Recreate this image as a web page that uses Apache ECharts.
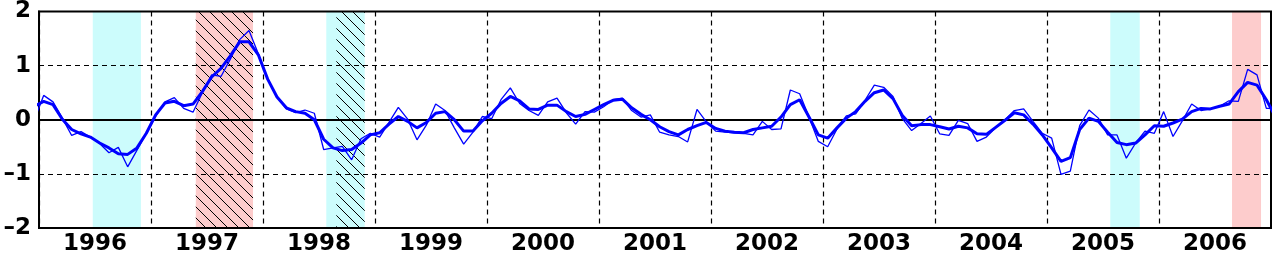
<!DOCTYPE html>
<html>
<head>
<meta charset="utf-8">
<script src="https://cdn.jsdelivr.net/npm/echarts@6/dist/echarts.min.js"></script>
<style>
html,body{margin:0;padding:0;background:#fff;}
#chart{width:1272px;height:257px;}
</style>
</head>
<body>
<div id="chart"></div>
<script>
// Year labels (centered on each year)
const yearLabels = ['1996','1997','1998','1999','2000','2001','2002','2003','2004','2005','2006'];
const startYear = 1996;
const yTicks = [-2, -1, 0, 1, 2];

// Monthly index values, starting Dec 1995 (index -1) through Jan 2007 (index 132)
const monthly = [
 0.0,
 0.45, 0.33, 0.03, -0.29, -0.22, -0.32, -0.44, -0.61, -0.51, -0.87, -0.56, -0.25,
 0.06, 0.33, 0.41, 0.21, 0.14, 0.5, 0.83, 0.8, 1.12, 1.48, 1.65, 1.22,
 0.75, 0.42, 0.2, 0.13, 0.18, 0.12, -0.55, -0.52, -0.49, -0.74, -0.35, -0.25,
 -0.32, -0.05, 0.23, 0.01, -0.37, -0.1, 0.29, 0.17, -0.15, -0.45, -0.23, 0.06,
 0.02, 0.37, 0.59, 0.3, 0.17, 0.08, 0.33, 0.4, 0.13, -0.08, 0.15, 0.14,
 0.24, 0.37, 0.4, 0.17, 0.05, 0.09, -0.23, -0.28, -0.31, -0.41, 0.19, -0.04,
 -0.21, -0.23, -0.24, -0.25, -0.28, -0.03, -0.18, -0.17, 0.55, 0.48, 0.05, -0.4,
 -0.5, -0.17, 0.07, 0.11, 0.36, 0.64, 0.6, 0.43, 0.02, -0.2, -0.07, 0.07,
 -0.26, -0.29, -0.01, -0.07, -0.4, -0.32, -0.15, 0.0, 0.17, 0.2, -0.03, -0.25,
 -0.34, -1.01, -0.95, -0.11, 0.18, 0.03, -0.28, -0.28, -0.71, -0.43, -0.21, -0.25,
 0.15, -0.31, -0.02, 0.29, 0.17, 0.2, 0.25, 0.35, 0.34, 0.93, 0.83, 0.21,
 0.21
];
// Smoothed (running mean) values, same months
const smoothed = [
 0.25,
 0.34, 0.28, 0.01, -0.18, -0.26, -0.32, -0.43, -0.52, -0.63, -0.64, -0.52, -0.25,
 0.09, 0.31, 0.34, 0.26, 0.29, 0.52, 0.79, 0.95, 1.18, 1.44, 1.44, 1.2,
 0.75, 0.42, 0.22, 0.15, 0.12, 0.0, -0.36, -0.52, -0.57, -0.55, -0.43, -0.28,
 -0.24, -0.08, 0.06, -0.03, -0.15, -0.05, 0.12, 0.15, 0.0, -0.21, -0.21, -0.02,
 0.12, 0.3, 0.43, 0.35, 0.2, 0.19, 0.27, 0.27, 0.15, 0.06, 0.1, 0.19,
 0.28, 0.36, 0.38, 0.22, 0.1, 0.0, -0.13, -0.22, -0.28, -0.18, -0.11, -0.05,
 -0.16, -0.21, -0.23, -0.24, -0.18, -0.15, -0.12, 0.05, 0.28, 0.37, 0.05, -0.28,
 -0.34, -0.15, 0.03, 0.15, 0.34, 0.5, 0.55, 0.39, 0.08, -0.11, -0.09, -0.09,
 -0.13, -0.17, -0.12, -0.15, -0.26, -0.27, -0.14, -0.01, 0.13, 0.09, -0.08, -0.28,
 -0.52, -0.77, -0.7, -0.18, 0.03, -0.03, -0.23, -0.42, -0.46, -0.43, -0.28, -0.11,
 -0.12, -0.06, 0.01, 0.15, 0.21, 0.2, 0.25, 0.29, 0.52, 0.69, 0.64, 0.37,
 0.05
];
// Event periods (decimal years)
const coldBands = [[1996.48, 1996.91], [1998.565, 1998.908], [2005.565, 2005.828]];
const warmBands = [[1997.40, 1997.911], [2006.652, 2006.911]];
const hatchBands = [[1997.40, 1997.911], [1998.655, 1998.908]];

function monthX(k) { return startYear + (k - 1 + 0.5) / 12; }
const thinData = monthly.map((v, k) => [monthX(k), v]);
const thickData = smoothed.map((v, k) => [monthX(k), v]);

function hatchPattern() {
  const s = 11;
  const c = document.createElement('canvas');
  c.width = s; c.height = s;
  const g = c.getContext('2d');
  g.strokeStyle = '#000';
  g.lineWidth = 1;
  g.beginPath();
  for (const k of [-s, 0, s]) { g.moveTo(k, 0); g.lineTo(k + s, s); }
  g.stroke();
  return { image: c, repeat: 'repeat' };
}
const hatch = hatchPattern();

const areaData = [];
coldBands.forEach(b => areaData.push([{ xAxis: b[0], itemStyle: { color: '#ccfcfc', opacity: 1 } }, { xAxis: b[1] }]));
warmBands.forEach(b => areaData.push([{ xAxis: b[0], itemStyle: { color: '#fdcccc', opacity: 1 } }, { xAxis: b[1] }]));
hatchBands.forEach(b => areaData.push([{ xAxis: b[0], itemStyle: { color: hatch, opacity: 1 } }, { xAxis: b[1] }]));

const FONT = 'DejaVu Sans';
const chart = echarts.init(document.getElementById('chart'), null, { renderer: 'canvas' });
chart.setOption({
  animation: false,
  backgroundColor: '#fff',
  grid: { left: 39, right: 1, top: 11, bottom: 29, show: true, borderColor: '#000', borderWidth: 2, backgroundColor: 'transparent', z: 2 },
  xAxis: [{
    type: 'value', min: startYear, max: startYear + yearLabels.length, interval: 1,
    position: 'bottom', z: 2,
    axisLine: { show: true, lineStyle: { color: '#000', width: 2 } },
    axisTick: { show: false },
    axisLabel: { show: false },
    splitLine: { show: true, lineStyle: { color: '#000', width: 1.2, type: [5, 4] } }
  }, {
    type: 'category', data: yearLabels, boundaryGap: true, position: 'bottom', z: 2,
    axisLine: { show: false }, axisTick: { show: false }, splitLine: { show: false },
    axisLabel: { show: true, interval: 0, margin: 5, color: '#000', fontFamily: FONT, fontWeight: 'bold', fontSize: 23 }
  }],
  yAxis: {
    type: 'value', min: yTicks[0], max: yTicks[yTicks.length - 1], interval: 1, z: 2,
    axisLine: { show: true, lineStyle: { color: '#000', width: 2 } },
    axisTick: { show: false },
    axisLabel: {
      margin: 8, color: '#000', fontFamily: FONT, fontWeight: 'bold', fontSize: 23,
      formatter: v => (v < 0 ? '\u2013' + Math.abs(v) : String(v))
    },
    splitLine: { show: true, lineStyle: { color: '#000', width: 1.2, type: [5, 4] } }
  },
  series: [{
    name: 'bands', type: 'line', z: -2, data: [], silent: true,
    markArea: { silent: true, z: -2, data: areaData }
  }, {
    name: 'zero', type: 'line', z: 3, data: [], silent: true,
    markLine: { silent: true, z: 3, symbol: 'none', label: { show: false },
      lineStyle: { color: '#000', width: 2, type: 'solid' },
      data: [{ yAxis: 0 }] }
  }, {
    name: 'monthly', type: 'line', data: thinData, showSymbol: false, clip: true,
    lineStyle: { color: '#0000ff', width: 1.3 }, z: 4
  }, {
    name: 'smoothed', type: 'line', data: thickData, showSymbol: false, clip: true,
    lineStyle: { color: '#0000ff', width: 3 }, z: 5
  }]
});
</script>
</body>
</html>
